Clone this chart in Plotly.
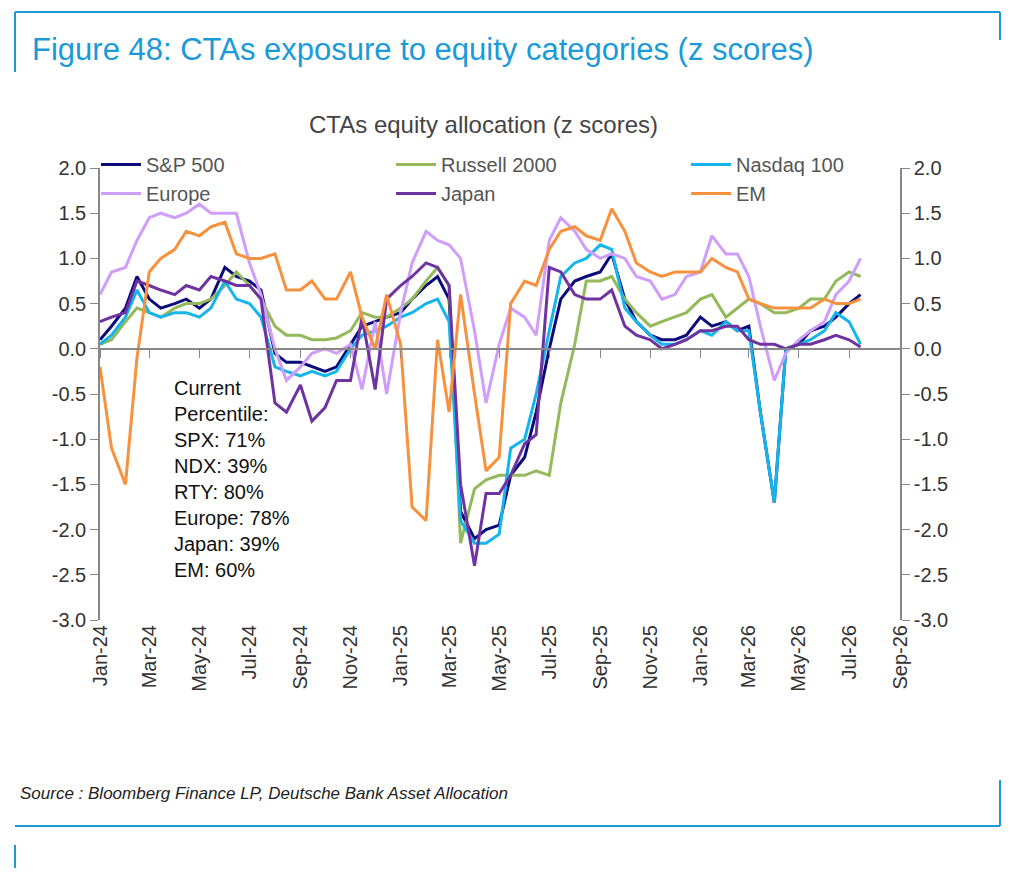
import pandas as pd
import plotly.graph_objects as go

# semi-monthly observations, Jan-2024 .. mid Jul-2026
dates = pd.date_range("2024-01-01", periods=62, freq="SMS")

spx = [0.10, 0.25, 0.45, 0.80, 0.55, 0.45, 0.50, 0.55, 0.45, 0.55, 0.90, 0.80, 0.75, 0.65, -0.05, -0.15,
       -0.15, -0.20, -0.25, -0.20, 0.05, 0.25, 0.30, 0.35, 0.40, 0.55, 0.70, 0.80, 0.55, -1.80, -2.10, -2.00,
       -1.95, -1.40, -1.20, -0.70, 0.00, 0.55, 0.75, 0.80, 0.85, 1.05, 0.55, 0.30, 0.15, 0.10, 0.10, 0.15,
       0.35, 0.25, 0.30, 0.20, 0.25, -0.70, -1.70, 0.00, 0.05, 0.20, 0.25, 0.35, 0.50, 0.60]
rty = [0.05, 0.10, 0.30, 0.45, 0.40, 0.35, 0.45, 0.50, 0.50, 0.55, 0.70, 0.85, 0.70, 0.55, 0.25, 0.15,
       0.15, 0.10, 0.10, 0.12, 0.20, 0.40, 0.35, 0.35, 0.45, 0.55, 0.75, 0.90, 0.70, -2.15, -1.55, -1.45,
       -1.40, -1.40, -1.40, -1.35, -1.40, -0.60, 0.05, 0.75, 0.75, 0.80, 0.55, 0.40, 0.25, 0.30, 0.35, 0.40,
       0.55, 0.60, 0.35, 0.45, 0.55, 0.50, 0.40, 0.40, 0.45, 0.55, 0.55, 0.75, 0.85, 0.80]
ndx = [0.05, 0.15, 0.35, 0.65, 0.40, 0.35, 0.40, 0.40, 0.35, 0.45, 0.75, 0.55, 0.50, 0.35, -0.20, -0.25,
       -0.30, -0.25, -0.30, -0.25, 0.00, 0.15, 0.20, 0.25, 0.35, 0.40, 0.50, 0.55, 0.30, -1.90, -2.15, -2.15,
       -2.05, -1.10, -1.00, -0.50, 0.20, 0.80, 0.95, 1.00, 1.15, 1.10, 0.45, 0.30, 0.15, 0.05, 0.05, 0.10,
       0.20, 0.15, 0.30, 0.20, 0.20, -0.70, -1.70, 0.00, 0.05, 0.10, 0.20, 0.40, 0.30, 0.05]
europe = [0.60, 0.85, 0.90, 1.20, 1.45, 1.50, 1.45, 1.50, 1.60, 1.50, 1.50, 1.50, 0.95, 0.60, 0.00, -0.35,
          -0.20, -0.05, 0.00, -0.05, 0.05, -0.45, 0.30, -0.50, 0.40, 0.95, 1.30, 1.20, 1.15, 1.00, 0.20, -0.60,
          0.05, 0.45, 0.35, 0.15, 1.20, 1.45, 1.30, 1.10, 1.00, 1.05, 1.00, 0.80, 0.75, 0.55, 0.60, 0.80,
          0.85, 1.25, 1.05, 1.05, 0.80, 0.25, -0.35, -0.05, 0.10, 0.20, 0.30, 0.60, 0.75, 1.00]
japan = [0.30, 0.35, 0.40, 0.75, 0.70, 0.65, 0.60, 0.70, 0.65, 0.80, 0.75, 0.70, 0.70, 0.55, -0.60, -0.70,
         -0.40, -0.80, -0.65, -0.35, -0.35, 0.35, -0.45, 0.55, 0.70, 0.80, 0.95, 0.90, 0.70, -1.50, -2.40, -1.60,
         -1.60, -1.40, -1.05, -0.95, 0.90, 0.85, 0.60, 0.55, 0.55, 0.65, 0.25, 0.15, 0.10, 0.00, 0.05, 0.10,
         0.20, 0.20, 0.25, 0.25, 0.10, 0.05, 0.05, 0.00, 0.05, 0.05, 0.10, 0.15, 0.10, 0.02]
em = [-0.20, -1.10, -1.50, -0.10, 0.85, 1.00, 1.10, 1.30, 1.25, 1.35, 1.40, 1.05, 1.00, 1.00, 1.05, 0.65,
      0.65, 0.75, 0.55, 0.55, 0.85, 0.35, 0.00, 0.60, 0.05, -1.75, -1.90, 0.10, -0.70, 0.60, -0.50, -1.35,
      -1.20, 0.50, 0.75, 0.70, 1.10, 1.30, 1.35, 1.25, 1.20, 1.55, 1.30, 0.95, 0.85, 0.80, 0.85, 0.85,
      0.85, 1.00, 0.90, 0.85, 0.55, 0.50, 0.45, 0.45, 0.45, 0.45, 0.55, 0.50, 0.50, 0.55]

series = [
    ("S&P 500", spx, "#0b0b7a"),
    ("Russell 2000", rty, "#93b95b"),
    ("Nasdaq 100", ndx, "#14b5ec"),
    ("Europe", europe, "#cf9dfa"),
    ("Japan", japan, "#6f33a1"),
    ("EM", em, "#f7913d"),
]

y_ticks = [2.0, 1.5, 1.0, 0.5, 0.0, -0.5, -1.0, -1.5, -2.0, -2.5, -3.0]
y_tick_labels = ["%.1f" % v for v in y_ticks]  # plain hyphen minus like the source

note_lines = ["Current", "Percentile:", "SPX: 71%", "NDX: 39%", "RTY: 80%",
              "Europe: 78%", "Japan: 39%", "EM: 60%"]

# page offset of the plotly div, and plot area in page pixels
OFF = 8
L, R, T, B = 100, 900, 168, 620
W, H = 1004, 860


def px(x):
    return (x - L) / (R - L)


def py(y):
    return (B - y) / (B - T)


fig = go.Figure()
for name, vals, color in series:
    fig.add_trace(go.Scatter(x=dates, y=vals, name=name, mode="lines",
                             line=dict(color=color, width=3)))
# dummy trace for the zero-line axis
fig.add_trace(go.Scatter(x=dates[:1], y=[0], xaxis="x2", yaxis="y2", showlegend=False,
                         mode="markers", marker=dict(opacity=0)))

grey = "#888888"
text_col = "#333333"
yax = dict(range=[-3, 2], tickvals=y_ticks, ticktext=y_tick_labels, showgrid=False,
           zeroline=False, showline=True, linecolor=grey, linewidth=1.5, ticks="outside",
           ticklen=8, tickcolor=grey, tickfont=dict(size=20))
fig.update_layout(
    width=W, height=H,
    margin=dict(l=L - OFF, r=W - (R - OFF), t=T - OFF, b=H - (B - OFF)),
    paper_bgcolor="white", plot_bgcolor="white",
    font=dict(family="Liberation Sans, Arial", size=19, color=text_col),
    showlegend=True,
    legend=dict(orientation="h", x=-0.005, y=py(145), xanchor="left", yanchor="top",
                entrywidth=240, entrywidthmode="pixels", font=dict(size=20, color="#555555"),
                bgcolor="rgba(0,0,0,0)", itemwidth=40),
    xaxis=dict(range=["2024-01-01", "2026-09-01"], tickformat="%b-%y", dtick="M2",
               tick0="2024-01-01", tickangle=-90, showgrid=False, showline=False,
               ticks="", zeroline=False, tickfont=dict(size=20)),
    xaxis2=dict(matches="x", overlaying="x", anchor="free", position=py(349), showgrid=False,
                showline=True, linecolor=grey, linewidth=2, ticks="outside", ticklen=8,
                tickcolor=grey, showticklabels=False, dtick="M2", tick0="2024-01-01"),
    yaxis=yax,
    yaxis2=dict(yax, matches="y", overlaying="y", side="right"),
)

fig.add_annotation(text="Figure 48: CTAs exposure to equity categories (z scores)",
                   xref="paper", yref="paper", x=px(30), y=py(50), xanchor="left",
                   yanchor="middle", showarrow=False, font=dict(size=31, color="#1a9ad9"))
fig.add_annotation(text="CTAs equity allocation (z scores)", xref="paper", yref="paper",
                   x=px(483), y=py(124), xanchor="center", yanchor="middle", showarrow=False,
                   font=dict(size=24, color="#444444"))
fig.add_annotation(text="<br>".join(note_lines), xref="paper", yref="paper",
                   x=px(172), y=py(375), xanchor="left", yanchor="top", align="left",
                   showarrow=False, font=dict(size=20, color="#111111"))
fig.add_annotation(text="<i>Source : Bloomberg Finance LP, Deutsche Bank Asset Allocation</i>",
                   xref="paper", yref="paper", x=px(18), y=py(793), xanchor="left",
                   yanchor="middle", showarrow=False, font=dict(size=17, color="#222222"))

blue = "#1a9ad9"
frame = [
    (15, 12, 1000, 12), (1000, 12, 1000, 40), (15, 12, 15, 72),
    (15, 826, 1000, 826), (1000, 780, 1000, 826),
    (15, 872, 1000, 872), (15, 845, 15, 872),
]
for x0, y0, x1, y1 in frame:
    fig.add_shape(type="line", xref="paper", yref="paper", x0=px(x0), y0=py(y0),
                  x1=px(x1), y1=py(y1), line=dict(color=blue, width=2))

fig.write_html("out.html")
